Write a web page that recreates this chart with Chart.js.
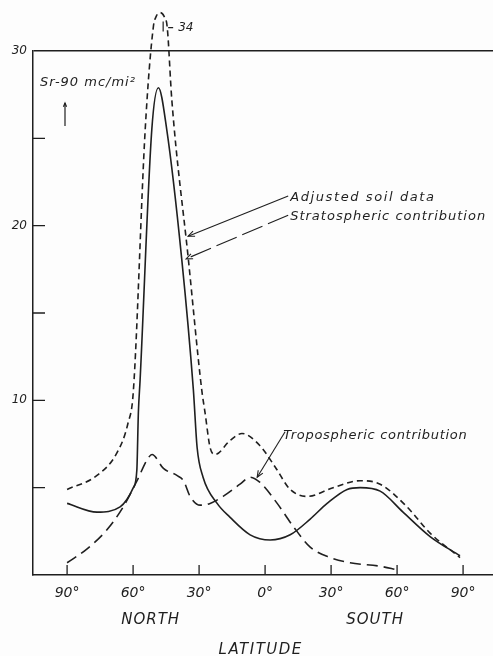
<!DOCTYPE html>
<html>
<head>
<meta charset="utf-8">
<script src="https://cdn.jsdelivr.net/npm/chart.js@4.4.1/dist/chart.umd.min.js"></script>
<style>
  html, body { margin: 0; padding: 0; background: #fdfdfd; }
  canvas { display: block; }
</style>
</head>
<body>
<canvas id="fallout" width="493" height="656"></canvas>
<script>
const INK = '#1f1f1f';
const FONT = '"DejaVu Sans", sans-serif';

// --- Data ---
// latitude: negative = north, positive = south

const xTickValues = [-90, -60, -30, 0, 30, 60, 90];
const yTickValues = [5, 10, 15, 20, 25, 30];
const yTickLabels = [10, 20, 30];

// Adjusted soil data (short dashes)
const soilLat = [-90, -76.4, -67.3, -62.3, -59.9, -54.5, -50.8, -49.5, -47.7, -45.9, -44.5, -42.4, -34.9,
                 -28.8, -27.3, -25, -22.7, -15.9, -10.5, -2.3, 4.5, 11.4, 19.1, 30.9, 43.2, 52.3, 64.5, 75, 88.6];
const soilVal = [4.9, 5.7, 7.0, 8.7, 10.5, 25.5, 32.5, 33.6, 34, 33.6, 32.5, 27.2, 18.1,
                 10.6, 9.3, 7.3, 6.9, 7.7, 8.1, 7.4, 6.2, 4.9, 4.5, 5.0, 5.4, 5.2, 3.9, 2.4, 1.0];

// Stratospheric contribution (solid)
const stratLat = [-90, -76.4, -65.9, -59.9, -58.3, -57.6, -56.8, -51.5, -48.5, -44.7, -37.9, -32.6,
                  -30.9, -28.2, -21.8, -15.9, -6.8, 2.3, 11.4, 20.5, 28.2, 37.3, 43.2, 52.3, 62.7, 75, 88.6];
const stratVal = [4.1, 3.6, 3.9, 5.0, 6.0, 9.3, 11.2, 25.5, 27.9, 25.5, 18.1, 10.6,
                  7.3, 5.6, 4.1, 3.3, 2.3, 2.0, 2.3, 3.2, 4.1, 4.9, 5.0, 4.8, 3.6, 2.2, 1.1];

// Tropospheric contribution (long dashes)
const tropLat = [-90, -80.9, -71.8, -64.5, -58.2, -53.6, -51.4, -46.2, -40.1, -37.1, -34.1, -29.5, -25, -19.1,
                 -11.4, -6.8, -2.3, 5.5, 12.7, 20.5, 29.5, 38.6, 52.3, 60];
const tropVal = [0.7, 1.5, 2.6, 3.9, 5.4, 6.6, 6.9, 6.1, 5.7, 5.4, 4.5, 4.0, 4.1, 4.5,
                 5.2, 5.6, 5.3, 4.1, 2.8, 1.6, 1.0, 0.7, 0.5, 0.3];

const PEAK_LAT = -47.7;
const PEAK_VAL = 34;

// values above 30 are squeezed so the peak fits under the frame
const CAP = 30;
const SQUEEZE = 0.55;

class CappedScale extends Chart.LinearScale {
    static id = 'capped';
    getPixelForValue(value) {
        const v = value > CAP ? CAP + (value - CAP) * SQUEEZE : value;
        return super.getPixelForValue(v);
    }
    getValueForPixel(pixel) {
        const v = super.getValueForPixel(pixel);
        return v > CAP ? CAP + (v - CAP) / SQUEEZE : v;
    }
}
Chart.register(CappedScale);

function toPoints(lat, val) {
    return lat.map((x, i) => ({ x: x, y: val[i] }));
}

// --- Drawing helpers ---

function say(ctx, str, x, y, size, align, spacing) {
    ctx.font = 'italic ' + size + 'px ' + FONT;
    ctx.letterSpacing = (spacing || 0) + 'px';
    ctx.textAlign = align;
    ctx.textBaseline = 'middle';
    ctx.fillText(str, x, y);
}

function arrow(ctx, x0, y0, x1, y1, dash, head) {
    head = head || 7;
    ctx.setLineDash(dash || []);
    ctx.beginPath();
    ctx.moveTo(x0, y0);
    ctx.lineTo(x1, y1);
    ctx.stroke();
    ctx.setLineDash([]);
    const ang = Math.atan2(y1 - y0, x1 - x0);
    ctx.beginPath();
    ctx.moveTo(x1 - head * Math.cos(ang - 0.4), y1 - head * Math.sin(ang - 0.4));
    ctx.lineTo(x1, y1);
    ctx.lineTo(x1 - head * Math.cos(ang + 0.4), y1 - head * Math.sin(ang + 0.4));
    ctx.stroke();
}

const annotate = {
    id: 'annotate',
    afterDraw(chart) {
        const ctx = chart.ctx;
        const a = chart.chartArea;
        const xs = chart.scales.x, ys = chart.scales.y;
        const P = (lat, v) => [xs.getPixelForValue(lat), ys.getPixelForValue(v)];

        ctx.save();
        ctx.strokeStyle = INK;
        ctx.fillStyle = INK;
        ctx.lineWidth = 1.3;

        // tick marks point into the plot
        ctx.beginPath();
        yTickValues.forEach(v => {
            if (v >= CAP) return;
            const py = ys.getPixelForValue(v);
            ctx.moveTo(a.left, py);
            ctx.lineTo(a.left + 12, py);
        });
        xTickValues.forEach(v => {
            const px = xs.getPixelForValue(v);
            ctx.moveTo(px, a.bottom);
            ctx.lineTo(px, a.bottom - 10);
        });
        ctx.stroke();

        // unit label with a small up arrow
        say(ctx, 'Sr-90 mc/mi\u00b2', a.left + 7, a.top + 32, 13, 'left', 1);
        ctx.lineWidth = 1.2;
        arrow(ctx, a.left + 32, a.top + 75, a.left + 32, a.top + 52, null, 4);

        // true height of the clipped peak
        const [pkx, pky] = P(PEAK_LAT, PEAK_VAL);
        ctx.beginPath();
        ctx.moveTo(pkx + 3, pky + 9);
        ctx.lineTo(pkx + 3, pky + 19);
        ctx.moveTo(pkx + 8, pky + 15);
        ctx.lineTo(pkx + 13, pky + 15);
        ctx.stroke();
        say(ctx, String(PEAK_VAL), pkx + 18, pky + 15, 12, 'left', 0);

        // curve labels with leaders
        ctx.lineWidth = 1.1;
        let p0 = P(10.5, 21.7), p1 = P(-35, 19.4);
        arrow(ctx, p0[0], p0[1], p1[0], p1[1]);
        p0 = P(10.5, 20.6); p1 = P(-35.9, 18.1);
        arrow(ctx, p0[0], p0[1], p1[0], p1[1], [22, 6]);
        p0 = P(9.1, 8.2); p1 = P(-3.6, 5.6);
        arrow(ctx, p0[0], p0[1], p1[0], p1[1]);

        let t = P(11.4, 21.6);
        say(ctx, 'Adjusted soil data', t[0], t[1], 13, 'left', 1.6);
        t = P(11.4, 20.5);
        say(ctx, 'Stratospheric contribution', t[0], t[1], 13, 'left', 1);
        t = P(8.2, 8.0);
        say(ctx, 'Tropospheric contribution', t[0], t[1], 13, 'left', 0.7);

        // hemisphere and axis names
        say(ctx, 'NORTH', xs.getPixelForValue(-52), a.bottom + 45, 15, 'center', 1);
        say(ctx, 'SOUTH', xs.getPixelForValue(50), a.bottom + 45, 15, 'center', 1);
        say(ctx, 'LATITUDE', xs.getPixelForValue(-2), a.bottom + 75, 15, 'center', 1.5);

        ctx.restore();
    }
};

const lineStyle = {
    borderColor: INK,
    borderWidth: 1.6,
    pointRadius: 0,
    fill: false,
    cubicInterpolationMode: 'monotone',
    clip: false
};

new Chart(document.getElementById('fallout'), {
    type: 'line',
    data: {
        datasets: [
            Object.assign({ label: 'Adjusted soil data', data: toPoints(soilLat, soilVal), borderDash: [6, 4] }, lineStyle),
            Object.assign({ label: 'Stratospheric contribution', data: toPoints(stratLat, stratVal) }, lineStyle),
            Object.assign({ label: 'Tropospheric contribution', data: toPoints(tropLat, tropVal), borderDash: [11, 6] }, lineStyle)
        ]
    },
    options: {
        responsive: false,
        animation: false,
        layout: { padding: { top: 51, right: 0, left: 0, bottom: 0 } },
        plugins: { legend: { display: false }, tooltip: { enabled: false } },
        scales: {
            x: {
                type: 'linear',
                min: -105.5,
                max: 103.6,
                afterBuildTicks: s => { s.ticks = xTickValues.map(v => ({ value: v })); },
                afterFit: s => { s.height = 81; },
                grid: { display: false, drawTicks: false },
                border: { display: true, color: INK, width: 1.5 },
                ticks: {
                    padding: 10,
                    color: INK,
                    font: { family: FONT, size: 14, style: 'italic' },
                    callback: v => Math.abs(v) + '\u00b0'
                }
            },
            y: {
                type: 'capped',
                min: 0,
                max: 30,
                afterBuildTicks: s => { s.ticks = yTickValues.map(v => ({ value: v })); },
                afterFit: s => { s.width = 33; },
                grid: {
                    drawTicks: false,
                    lineWidth: 1.4,
                    color: c => (c.tick && c.tick.value === CAP ? INK : 'rgba(0,0,0,0)')
                },
                border: { display: true, color: INK, width: 1.5 },
                ticks: {
                    padding: 6,
                    color: INK,
                    font: { family: FONT, size: 12, style: 'italic' },
                    callback: v => (yTickLabels.includes(v) ? String(v) : '')
                }
            }
        }
    },
    plugins: [annotate]
});
</script>
</body>
</html>
